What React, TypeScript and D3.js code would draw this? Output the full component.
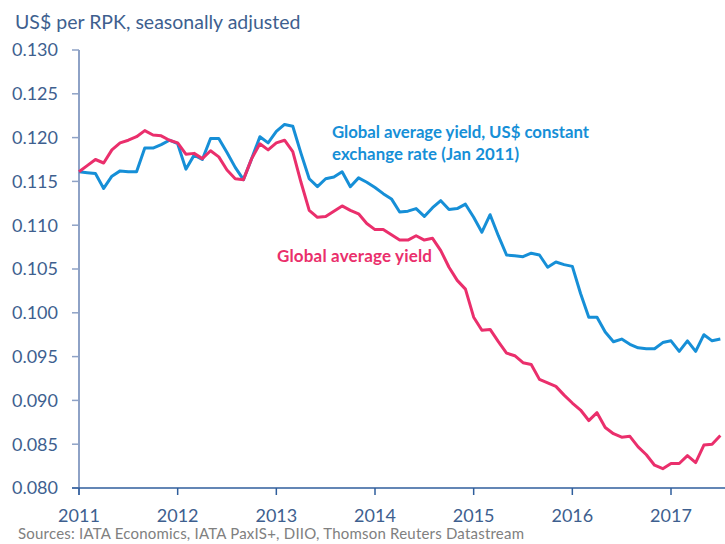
import React from "react";
import * as d3 from "d3";

const startYear = 2011;
const yearTicks = [2011, 2012, 2013, 2014, 2015, 2016, 2017];
const yTicks = [0.08, 0.085, 0.09, 0.095, 0.1, 0.105, 0.11, 0.115, 0.12, 0.125, 0.13];

const constantYield = [
  0.1161, 0.1160, 0.1159, 0.1142, 0.1156, 0.1162, 0.1161, 0.1161, 0.1188, 0.1188,
  0.1192, 0.1197, 0.1193, 0.1164, 0.1180, 0.1175, 0.1199, 0.1199, 0.1183, 0.1166,
  0.1152, 0.1176, 0.1201, 0.1194, 0.1207, 0.1215, 0.1213, 0.1182, 0.1153, 0.1144,
  0.1153, 0.1155, 0.1161, 0.1144, 0.1154, 0.1149, 0.1143, 0.1136, 0.1130, 0.1115,
  0.1116, 0.1119, 0.1110, 0.1120, 0.1128, 0.1118, 0.1119, 0.1124, 0.1109, 0.1092,
  0.1112, 0.1088, 0.1066, 0.1065, 0.1064, 0.1068, 0.1066, 0.1052, 0.1058, 0.1055,
  0.1053, 0.1022, 0.0995, 0.0995, 0.0978, 0.0967, 0.0970, 0.0964, 0.0960, 0.0959,
  0.0959, 0.0966, 0.0968, 0.0956, 0.0968, 0.0956, 0.0975, 0.0968, 0.0970,
];

const averageYield = [
  0.1161, 0.1168, 0.1175, 0.1171, 0.1186, 0.1194, 0.1197, 0.1201, 0.1208, 0.1203,
  0.1202, 0.1197, 0.1194, 0.1181, 0.1182, 0.1176, 0.1185, 0.1178, 0.1163, 0.1153,
  0.1152, 0.1176, 0.1193, 0.1186, 0.1194, 0.1197, 0.1184, 0.1149, 0.1117, 0.1109,
  0.1110, 0.1116, 0.1122, 0.1117, 0.1113, 0.1102, 0.1095, 0.1095, 0.1089, 0.1083,
  0.1083, 0.1088, 0.1083, 0.1085, 0.1071, 0.1052, 0.1037, 0.1027, 0.0995, 0.0980,
  0.0981, 0.0967, 0.0954, 0.0951, 0.0943, 0.0941, 0.0924, 0.0920, 0.0916, 0.0906,
  0.0897, 0.0889, 0.0877, 0.0886, 0.0869, 0.0862, 0.0858, 0.0859, 0.0847, 0.0838,
  0.0826, 0.0822, 0.0828, 0.0828, 0.0837, 0.0829, 0.0849, 0.0850, 0.0860,
];

const W = 725;
const H = 544;
const axisColor = "#3E5F8F";
const blue = "#168FD7";
const pink = "#EA2F6C";
const font = "Lato, 'Open Sans', sans-serif";

export default function App() {
  const x = d3.scaleLinear().domain([2011, 2017]).range([79, 671]);
  const y = d3.scaleLinear().domain([0.08, 0.13]).range([488, 50]);
  const line = d3
    .line<number>()
    .x((_, i) => x(startYear + i / 12))
    .y((d) => y(d));

  return (
    <svg
      width={W}
      height={H}
      style={{ position: "absolute", left: 0, top: 0, background: "#fff" }}
      fontFamily={font}
    >
      <text x={15} y={29} fontSize={19.5} fill={axisColor}>
        US$ per RPK, seasonally adjusted
      </text>

      {/* y axis */}
      <line x1={79} x2={79} y1={y(0.13)} y2={495} stroke="#8EA2C6" strokeWidth={2} />
      {yTicks.map((t) => (
        <g key={t}>
          <line x1={72} x2={79} y1={y(t)} y2={y(t)} stroke="#8EA2C6" strokeWidth={1.5} />
          <text
            x={58}
            y={y(t)}
            dy="0.35em"
            textAnchor="end"
            fontSize={18}
            fill={axisColor}
          >
            {t.toFixed(3)}
          </text>
        </g>
      ))}

      {/* x axis */}
      <line x1={72} x2={W} y1={488} y2={488} stroke="#2F5E9C" strokeWidth={1.5} />
      {yearTicks.map((t) => (
        <g key={t}>
          <line x1={x(t)} x2={x(t)} y1={488} y2={495} stroke="#2F5E9C" strokeWidth={1.5} />
          <text x={x(t)} y={522} textAnchor="middle" fontSize={18} fill={axisColor}>
            {t}
          </text>
        </g>
      ))}

      <path d={line(constantYield) || ""} fill="none" stroke={blue} strokeWidth={3} strokeLinejoin="round" />
      <path d={line(averageYield) || ""} fill="none" stroke={pink} strokeWidth={3} strokeLinejoin="round" />

      <text x={332} y={138} fontSize={16.8} fontWeight="bold" fill={blue} textLength={257} lengthAdjust="spacing">
        Global average yield, US$ constant
      </text>
      <text x={332} y={160} fontSize={16.8} fontWeight="bold" fill={blue} textLength={187} lengthAdjust="spacing">
        exchange rate (Jan 2011)
      </text>
      <text x={277} y={262} fontSize={17} fontWeight="bold" fill={pink} textLength={155} lengthAdjust="spacing">
        Global average yield
      </text>

      <text x={18} y={539} fontSize={15} fill="#808080" textLength={506} lengthAdjust="spacing">
        Sources: IATA Economics, IATA PaxIS+, DIIO, Thomson Reuters Datastream
      </text>
    </svg>
  );
}
